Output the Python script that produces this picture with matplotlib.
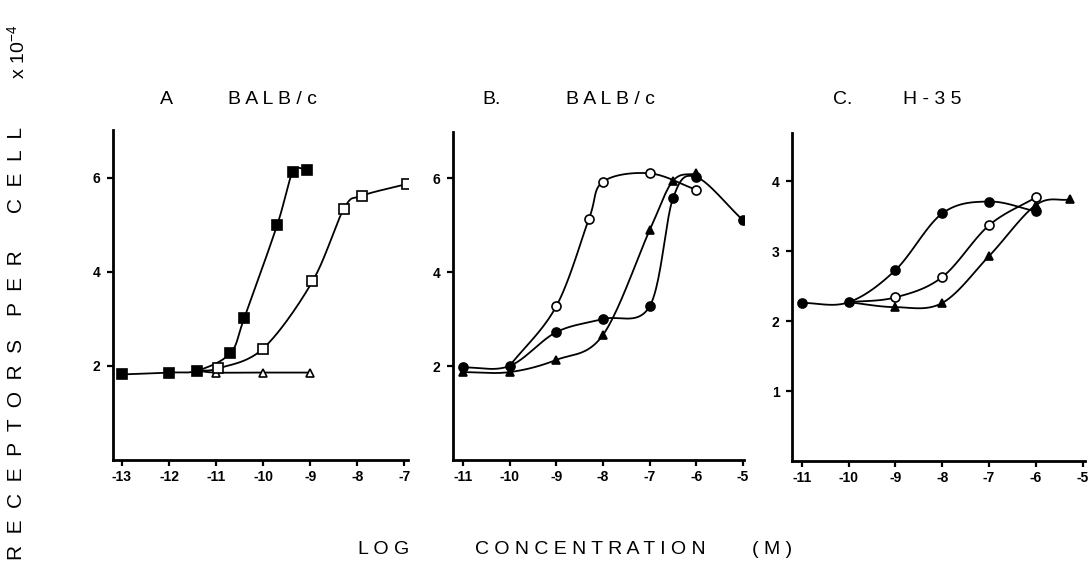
"""Three-panel dose-response figure: receptors per cell vs log concentration."""

import numpy as np
import matplotlib

matplotlib.use("Agg")
import matplotlib.pyplot as plt

plt.rcParams["font.family"] = ["Liberation Sans", "DejaVu Sans"]

W, H = 1090, 563

# ---- Panel A (BALB/c) ----
a_fsq_x = [-13, -12, -11.4, -10.7, -10.4, -9.7, -9.37, -9.07]
a_fsq_y = [1.82, 1.86, 1.9, 2.27, 3.02, 5.0, 6.12, 6.17]
a_osq_x = [-10.95, -10, -8.95, -8.28, -7.9, -6.95]
a_osq_y = [1.95, 2.37, 3.8, 5.35, 5.62, 5.87]
a_otr_x = [-11, -10, -9]
a_otr_y = [1.86, 1.86, 1.86]

# ---- Panel B (BALB/c) ----
b_oc_x = [-9, -8.3, -8, -7, -6]
b_oc_y = [3.27, 5.13, 5.92, 6.1, 5.75]
b_fc_x = [-11, -10, -9, -8, -7, -6.5, -6, -5]
b_fc_y = [1.97, 2.0, 2.72, 3.0, 3.27, 5.57, 6.02, 5.1]
b_ft_x = [-11, -10, -9, -8, -7, -6.5, -6]
b_ft_y = [1.87, 1.87, 2.13, 2.66, 4.89, 5.94, 6.1]

# ---- Panel C (H-35) ----
c_fc_x = [-11, -10, -9, -8, -7, -6]
c_fc_y = [2.26, 2.27, 2.73, 3.54, 3.71, 3.57]
c_oc_x = [-9, -8, -7, -6]
c_oc_y = [2.34, 2.63, 3.37, 3.77]
c_ft_x = [-9, -8, -7, -6, -5.28]
c_ft_y = [2.2, 2.26, 2.93, 3.66, 3.74]

a_xticks = [-13, -12, -11, -10, -9, -8, -7]
bc_xticks = [-11, -10, -9, -8, -7, -6, -5]
ab_yticks = [2, 4, 6]
c_yticks = [1, 2, 3, 4]


def smooth(x, y, n=24):
    """Catmull-Rom curve through the points, for drawing the fitted lines."""
    p = np.column_stack([x, y]).astype(float)
    if len(p) < 3:
        return p[:, 0], p[:, 1]
    p = np.vstack([2 * p[0] - p[1], p, 2 * p[-1] - p[-2]])
    out = []
    t = np.linspace(0, 1, n, endpoint=False)[:, None]
    for i in range(1, len(p) - 2):
        p0, p1, p2, p3 = p[i - 1], p[i], p[i + 1], p[i + 2]
        seg = 0.5 * (2 * p1 + (-p0 + p2) * t
                     + (2 * p0 - 5 * p1 + 4 * p2 - p3) * t ** 2
                     + (-p0 + 3 * p1 - 3 * p2 + p3) * t ** 3)
        out.append(seg)
    out.append(p[-2][None, :])
    out = np.vstack(out)
    return out[:, 0], out[:, 1]


def series(ax, x, y, marker, filled, start=None, ms=6.5):
    lx, ly = list(x), list(y)
    if start is not None:
        lx, ly = [start[0]] + lx, [start[1]] + ly
    sx, sy = smooth(lx, ly)
    ax.plot(sx, sy, color="black", lw=1.3, zorder=2, solid_capstyle="round")
    ax.plot(x, y, ls="none", marker=marker, ms=ms, mec="black", mew=1.2,
            mfc="black" if filled else "white", zorder=3)


def frame(px_left, px_right, px_top, px_bottom):
    return fig.add_axes([px_left / W, 1 - px_bottom / H,
                         (px_right - px_left) / W, (px_bottom - px_top) / H])


def style(ax, xticks, yticks, xlim, ylim):
    ax.set_xlim(*xlim)
    ax.set_ylim(*ylim)
    ax.set_xticks(xticks)
    ax.set_xticklabels([str(v) for v in xticks])
    ax.set_yticks(yticks)
    ax.set_yticklabels([str(v) for v in yticks])
    for s in ("top", "right"):
        ax.spines[s].set_visible(False)
    for s in ("left", "bottom"):
        ax.spines[s].set_linewidth(2.0)
    ax.tick_params(length=4, width=1.6, labelsize=10)
    ax.tick_params(axis="x", pad=3)
    ax.tick_params(axis="y", pad=5)
    for lab in ax.get_xticklabels() + ax.get_yticklabels():
        lab.set_fontweight("bold")


fig = plt.figure(figsize=(W / 100, H / 100), dpi=100)

# Panel A
ax = frame(113, 408, 130, 460)
style(ax, a_xticks, ab_yticks, (-13.19, -6.92), (0, 7.02))
branch_a = (a_fsq_x[2], a_fsq_y[2])
series(ax, a_otr_x, a_otr_y, "^", False, start=branch_a, ms=5.5)
series(ax, a_osq_x, a_osq_y, "s", False, start=branch_a)
series(ax, a_fsq_x, a_fsq_y, "s", True)

# Panel B
ax = frame(453, 744, 132, 460)
style(ax, bc_xticks, ab_yticks, (-11.21, -4.98), (0, 6.98))
branch_b = (b_fc_x[1], b_fc_y[1])
series(ax, b_ft_x, b_ft_y, "^", True, ms=5.5)
series(ax, b_fc_x, b_fc_y, "o", True)
series(ax, b_oc_x, b_oc_y, "o", False, start=branch_b)

# Panel C
ax = frame(792, 1085, 133, 461)
style(ax, bc_xticks, c_yticks, (-11.21, -4.95), (0, 4.69))
branch_c = (c_fc_x[1], c_fc_y[1])
series(ax, c_ft_x, c_ft_y, "^", True, start=branch_c, ms=5.5)
series(ax, c_oc_x, c_oc_y, "o", False, start=branch_c)
series(ax, c_fc_x, c_fc_y, "o", True)


def ftext(px, py, s, **kw):
    fig.text(px / W, 1 - py / H, s, ha="center", va="center", **kw)


# panel titles
ftext(166, 100, "A", fontsize=14)
ftext(272, 100, "B A L B / c", fontsize=14)
ftext(492, 100, "B.", fontsize=14)
ftext(610, 100, "B A L B / c", fontsize=14)
ftext(843, 100, "C.", fontsize=14)
ftext(932, 100, "H - 3 5", fontsize=14)

# axis labels
ftext(384, 549, "L O G", fontsize=14)
ftext(590, 549, "C O N C E N T R A T I O N", fontsize=14)
ftext(772, 549, "( M )", fontsize=14)
ftext(17, 449, "R  E  C  E  P  T  O  R  S", fontsize=15, rotation=90)
ftext(17, 283, "P  E  R", fontsize=15, rotation=90)
ftext(17, 170, "C  E  L  L", fontsize=15, rotation=90)
ftext(17, 52, r"x $\mathregular{10^{-4}}$", fontsize=14, rotation=90)

fig.savefig("out.png", dpi=100)
